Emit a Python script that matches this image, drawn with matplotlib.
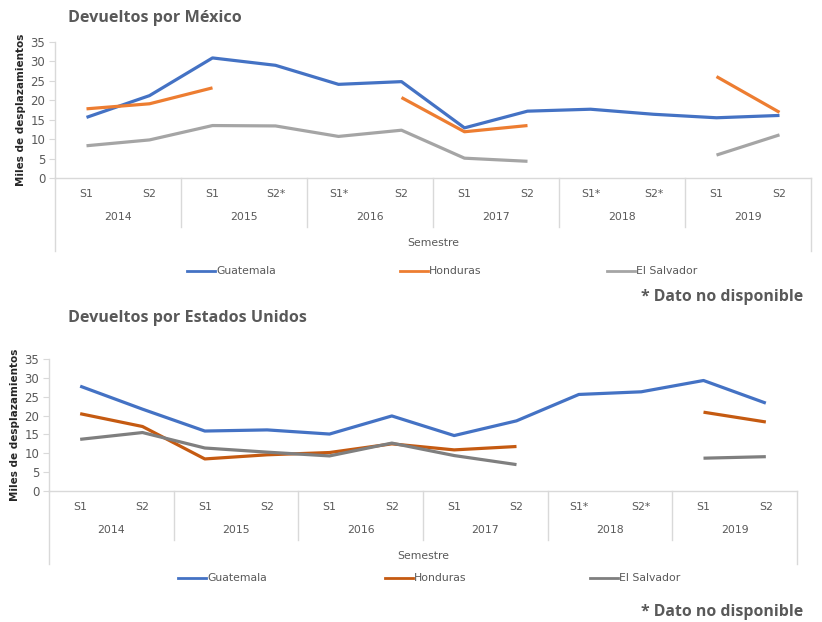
import numpy as np
import matplotlib
matplotlib.use("Agg")
import matplotlib.pyplot as plt

nan = np.nan
semesters_mx = ["S1", "S2", "S1", "S2*", "S1*", "S2", "S1", "S2", "S1*", "S2*", "S1", "S2"]
semesters_us = ["S1", "S2", "S1", "S2", "S1", "S2", "S1", "S2", "S1*", "S2*", "S1", "S2"]
years = ["2014", "2015", "2016", "2017", "2018", "2019"]

mx_guatemala = [15.6, 21.2, 30.9, 29.0, 24.1, 24.8, 12.9, 17.2, 17.7, 16.4, 15.5, 16.1]
mx_honduras = [17.8, 19.1, 23.2, nan, nan, 20.7, 11.9, 13.5, nan, nan, 26.1, 16.9]
mx_salvador = [8.3, 9.8, 13.5, 13.4, 10.7, 12.3, 5.1, 4.3, nan, nan, 5.9, 11.1]

us_guatemala = [27.8, 21.7, 15.9, 16.2, 15.1, 19.9, 14.7, 18.6, 25.6, 26.3, 29.3, 23.3]
us_honduras = [20.5, 17.1, 8.5, 9.6, 10.2, 12.5, 10.9, 11.8, nan, nan, 20.9, 18.3]
us_salvador = [13.7, 15.5, 11.4, 10.3, 9.3, 12.7, 9.4, 7.0, nan, nan, 8.7, 9.1]

W, H = 822, 622
fig = plt.figure(figsize=(W / 100, H / 100), dpi=100)
fig.patch.set_facecolor("white")

TXT = "#595959"
GRID = "#D9D9D9"
NARROW = ["DejaVu Sans"]


def px_axes(l, r, t, b):
    return fig.add_axes([l / W, 1 - b / H, (r - l) / W, (b - t) / H])


def draw_panel(ax, sems, series, colors, ax_top, ax_bot, title, title_y,
               legend_y, legend_x, foot_y, ylab_pad):
    n = len(sems)
    x = np.arange(n)
    hpx = ax_bot - ax_top
    for vals, c in zip(series, colors):
        ax.plot(x, vals, color=c, lw=2.3, solid_capstyle="butt",
                solid_joinstyle="round")
    ax.set_xlim(-0.5, n - 0.5)
    ax.set_ylim(0, 35)
    ax.set_yticks(range(0, 36, 5))
    ax.tick_params(axis="y", labelsize=8.5, colors=TXT, length=4,
                   color=GRID, pad=3)
    for lab in ax.get_yticklabels():
        lab.set_color(TXT)
    ax.set_xticks([])
    for s in ["top", "right"]:
        ax.spines[s].set_visible(False)
    for s in ["left", "bottom"]:
        ax.spines[s].set_color(GRID)
        ax.spines[s].set_linewidth(1)
    ax.set_ylabel("Miles de desplazamientos", fontsize=7.5,
                  fontweight="bold", color="#262626", labelpad=ylab_pad)
    tr = ax.get_xaxis_transform()

    def fy(py):
        return -(py - ax_bot) / hpx

    for i, s in enumerate(sems):
        ax.text(i, fy(ax_bot + 16), s, transform=tr, ha="center",
                va="center", fontsize=7.8, color=TXT, family=NARROW)
    for j, yr in enumerate(years):
        ax.text(2 * j + 0.5, fy(ax_bot + 39), yr, transform=tr,
                ha="center", va="center", fontsize=7.8, color=TXT,
                family=NARROW)
    for k in range(1, len(years)):
        ax.plot([2 * k - 0.5] * 2, [0, fy(ax_bot + 49)], transform=tr,
                color=GRID, lw=1, clip_on=False)
    for xe in [-0.5, n - 0.5]:
        ax.plot([xe] * 2, [0, fy(ax_bot + 73)], transform=tr,
                color=GRID, lw=1, clip_on=False)
    ax.text((n - 1) / 2, fy(ax_bot + 65), "Semestre", transform=tr,
            ha="center", va="center", fontsize=7.8, color=TXT, family=NARROW)

    fig.text(68 / W, 1 - title_y / H, title, fontsize=11.6,
             fontweight="bold", color=TXT, family="Open Sans",
             va="center", ha="left")

    names = ["Guatemala", "Honduras", "El Salvador"]
    for lx, nm, c in zip(legend_x, names, colors):
        fig.add_artist(plt.Line2D([lx / W, (lx + 28) / W],
                                  [1 - legend_y / H] * 2, color=c, lw=2.0))
        fig.text((lx + 29) / W, 1 - legend_y / H, nm, fontsize=7.8,
                 color=TXT, family=NARROW, va="center", ha="left")
    fig.text(803 / W, 1 - foot_y / H, "* Dato no disponible", fontsize=11.4,
             fontweight="bold", color=TXT, family="Open Sans",
             ha="right", va="center")


ax1 = px_axes(55, 811, 42, 178)
draw_panel(ax1, semesters_mx, [mx_guatemala, mx_honduras, mx_salvador],
           ["#4472C4", "#ED7D31", "#A5A5A5"], 42, 178,
           "Devueltos por México", 18, 271, [187, 400, 607], 297, 3)

ax2 = px_axes(49, 797, 359, 491)
draw_panel(ax2, semesters_us, [us_guatemala, us_honduras, us_salvador],
           ["#4472C4", "#C55A11", "#7F7F7F"], 359, 491,
           "Devueltos por Estados Unidos", 318, 578, [178, 385, 590], 612, 3)

fig.savefig("out.png", dpi=100, facecolor="white")
